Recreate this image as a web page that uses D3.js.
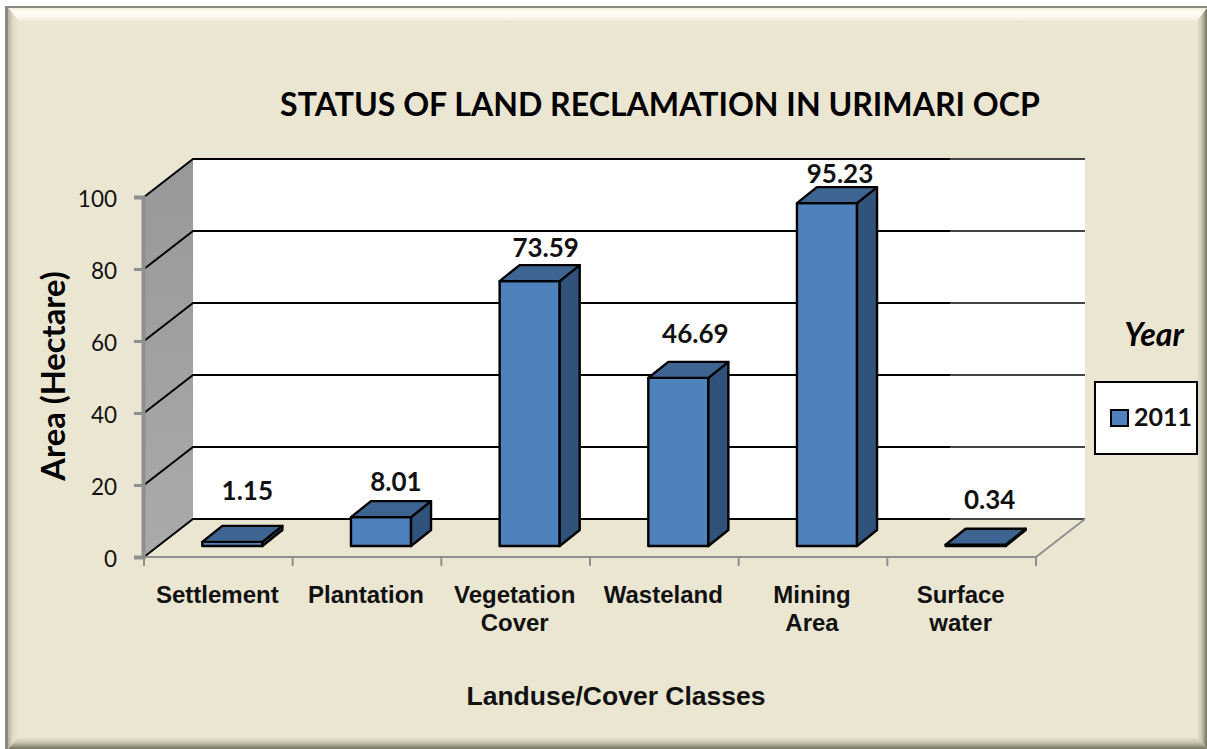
<!DOCTYPE html>
<html>
<head>
<meta charset="utf-8">
<script src="https://cdn.jsdelivr.net/npm/d3@7"></script>
<style>
  html, body { margin: 0; padding: 0; background: #fff; }
  svg { display: block; }
  .calibri { font-family: Lato, Carlito, sans-serif; }
  .arial { font-family: "Liberation Sans", Arial, sans-serif; font-weight: bold; }
</style>
</head>
<body>
<script>
// values
const categories = ['Settlement', 'Plantation', 'Vegetation Cover', 'Wasteland', 'Mining Area', 'Surface water'];
const area2011 = [1.15, 8.01, 73.59, 46.69, 95.23, 0.34];
const yTicks = [0, 20, 40, 60, 80, 100];
const labelNudge = [[5, -35], [5, -20], [6, -17], [7, -28], [3, -14], [4, -29]];

const width = 1207, height = 749;

// 3d offsets: whole depth of the box, gap in front of the bars, depth of a bar
const depth = { x: 49, y: -38 };
const gap = { x: 14, y: -11 };
const barDepth = { x: 20, y: -16 };

const x0 = 144, x1 = 1036;
const x = d3.scaleBand().domain(categories).range([x0, x1]).paddingInner(0.596).paddingOuter(0.298);
const xStep = d3.scaleBand().domain(categories).range([x0, x1]);
const y = d3.scaleLinear().domain([0, 100]).range([557, 197]);

const svg = d3.select('body').append('svg')
  .attr('width', width)
  .attr('height', height);

const defs = svg.append('defs');
function gradient(id, x2, y2, stops) {
  const g = defs.append('linearGradient').attr('id', id)
    .attr('x1', 0).attr('y1', 0).attr('x2', x2).attr('y2', y2);
  stops.forEach(s => g.append('stop').attr('offset', s[0]).attr('stop-color', s[1]));
}
gradient('bevelTop', 0, 1, [[0, '#f3efdc'], [0.35, '#fffff4'], [0.7, '#fbf8e8'], [1, '#efebd8']]);
gradient('bevelLeft', 1, 0, [[0, '#b4b19f'], [0.45, '#dfdbc6'], [1, '#ebe6d2']]);
gradient('bevelRight', 1, 0, [[0, '#ebe6d2'], [0.5, '#c6c3b1'], [1, '#74725f']]);
gradient('bevelBottom', 0, 1, [[0, '#ebe6d2'], [0.5, '#c4c1af'], [1, '#74725f']]);
gradient('wall', 0, 1, [[0, '#989898'], [1, '#aaaaaa']]);

// frame
const pts = p => p.map(d => d.join(',')).join(' ');
svg.append('rect').attr('x', 5).attr('y', 6).attr('width', width - 5).attr('height', height - 6).attr('fill', '#8a8a84');
svg.append('rect').attr('x', 8).attr('y', 8).attr('width', width - 8).attr('height', height - 8).attr('fill', '#ebe6d2');
svg.append('polygon').attr('points', pts([[8, 8], [width, 8], [1197, 21], [19, 21]])).attr('fill', 'url(#bevelTop)');
svg.append('polygon').attr('points', pts([[8, 8], [19, 21], [19, 737], [8, height]])).attr('fill', 'url(#bevelLeft)');
svg.append('polygon').attr('points', pts([[width, 8], [width, height], [1197, 737], [1197, 21]])).attr('fill', 'url(#bevelRight)');
svg.append('polygon').attr('points', pts([[8, height], [19, 737], [1197, 737], [width, height]])).attr('fill', 'url(#bevelBottom)');

// back wall, side wall
svg.append('rect')
  .attr('x', x0 + depth.x).attr('y', y(100) + depth.y)
  .attr('width', x1 - x0).attr('height', y(0) - y(100))
  .attr('fill', '#fff');
svg.append('polygon')
  .attr('points', pts([[x0, y(100)], [x0 + depth.x, y(100) + depth.y], [x0 + depth.x, y(0) + depth.y], [x0, y(0)]]))
  .attr('fill', 'url(#wall)');

// gridlines, they go grey past the last bar in the original
svg.append('g').selectAll('path').data(yTicks).join('path')
  .attr('d', d => `M${x0},${y(d)}L${x0 + depth.x},${y(d) + depth.y}H950`)
  .attr('fill', 'none').attr('stroke', '#000').attr('stroke-width', 2);
svg.append('g').selectAll('line').data(yTicks).join('line')
  .attr('x1', 950).attr('x2', x1 + depth.x)
  .attr('y1', d => y(d) + depth.y).attr('y2', d => y(d) + depth.y)
  .attr('stroke', '#444').attr('stroke-width', 2);

// floor edges
svg.append('path')
  .attr('d', `M${x0},${y(0)}H${x1}L${x1 + depth.x},${y(0) + depth.y}`)
  .attr('fill', 'none').attr('stroke', '#8f8f8f').attr('stroke-width', 1.8);

// y axis
const yAxis = svg.append('g')
  .attr('transform', `translate(${x0 - 1},0)`)
  .call(d3.axisLeft(y).tickValues(yTicks).tickSize(9).tickPadding(17));
yAxis.select('.domain').attr('stroke', '#8f8f8f').attr('stroke-width', 4);
yAxis.selectAll('.tick line').attr('stroke', '#8f8f8f').attr('stroke-width', 3);
yAxis.selectAll('.tick text')
  .attr('class', 'calibri').attr('font-size', 22.5).attr('fill', '#111').attr('dy', '0.42em');

// x ticks
svg.append('g').selectAll('line').data(categories.map(c => xStep(c)).concat([x1])).join('line')
  .attr('x1', d => d).attr('x2', d => d)
  .attr('y1', y(0)).attr('y2', y(0) + 9)
  .attr('stroke', '#8f8f8f').attr('stroke-width', 2);

// bars
const bars = svg.append('g').selectAll('g').data(categories).join('g')
  .attr('stroke', '#000').attr('stroke-width', 2.4).attr('stroke-linejoin', 'round');
const bw = x.bandwidth();
bars.each(function (c, i) {
  const g = d3.select(this);
  const l = x(c) + gap.x, r = l + bw;
  const base = y(0) + gap.y, top = y(area2011[i]) + gap.y;
  g.append('rect').attr('x', l).attr('y', top).attr('width', bw).attr('height', base - top).attr('fill', '#4f81bd');
  g.append('polygon')
    .attr('points', pts([[r, top], [r + barDepth.x, top + barDepth.y], [r + barDepth.x, base + barDepth.y], [r, base]]))
    .attr('fill', '#31527a');
  g.append('polygon')
    .attr('points', pts([[l, top], [l + barDepth.x, top + barDepth.y], [r + barDepth.x, top + barDepth.y], [r, top]]))
    .attr('fill', '#3e6591');
});

// value labels
svg.append('g').selectAll('text').data(categories).join('text')
  .attr('class', 'calibri')
  .attr('x', (c, i) => x(c) + gap.x + bw / 2 + barDepth.x / 2 + labelNudge[i][0])
  .attr('y', (c, i) => y(area2011[i]) + gap.y + barDepth.y + labelNudge[i][1])
  .attr('dy', '0.36em')
  .attr('text-anchor', 'middle')
  .attr('font-size', 26).attr('font-weight', 700).attr('fill', '#111')
  .text((c, i) => area2011[i].toFixed(2));

// category labels, wrapped on two lines where the name has a space
svg.append('g').selectAll('text').data(categories).join('text')
  .attr('class', 'arial')
  .attr('y', 603)
  .attr('text-anchor', 'middle')
  .attr('font-size', 24).attr('fill', '#111')
  .each(function (c) {
    const t = d3.select(this);
    c.split(' ').forEach((w, i) => {
      t.append('tspan').attr('x', xStep(c) + xStep.bandwidth() / 2 - 1).attr('dy', i ? 28 : 0).text(w);
    });
  });

// titles
svg.append('text').attr('class', 'calibri')
  .attr('x', 660).attr('y', 116).attr('text-anchor', 'middle')
  .attr('font-size', 32.1).attr('font-weight', 700).attr('fill', '#000')
  .text('STATUS OF LAND RECLAMATION IN URIMARI OCP');
svg.append('text').attr('class', 'calibri')
  .attr('transform', 'translate(65,376) rotate(-90)').attr('text-anchor', 'middle')
  .attr('font-size', 32.7).attr('font-weight', 700).attr('fill', '#000')
  .text('Area (Hectare)');
svg.append('text').attr('class', 'arial')
  .attr('x', 616).attr('y', 705).attr('text-anchor', 'middle')
  .attr('font-size', 26.5).attr('fill', '#111')
  .text('Landuse/Cover Classes');

// legend
svg.append('text').attr('class', 'calibri')
  .attr('x', 1154).attr('y', 346).attr('text-anchor', 'middle')
  .attr('font-size', 32).attr('font-weight', 700).attr('font-style', 'italic').attr('fill', '#000')
  .text('Year');
svg.append('rect').attr('x', 1095).attr('y', 382).attr('width', 102).attr('height', 72)
  .attr('fill', '#fff').attr('stroke', '#000').attr('stroke-width', 2);
svg.append('rect').attr('x', 1111).attr('y', 410).attr('width', 17).attr('height', 16)
  .attr('fill', '#4f81bd').attr('stroke', '#000').attr('stroke-width', 2);
svg.append('text').attr('class', 'calibri')
  .attr('x', 1134).attr('y', 426)
  .attr('font-size', 25).attr('font-weight', 700).attr('fill', '#111')
  .text('2011');
</script>
</body>
</html>
